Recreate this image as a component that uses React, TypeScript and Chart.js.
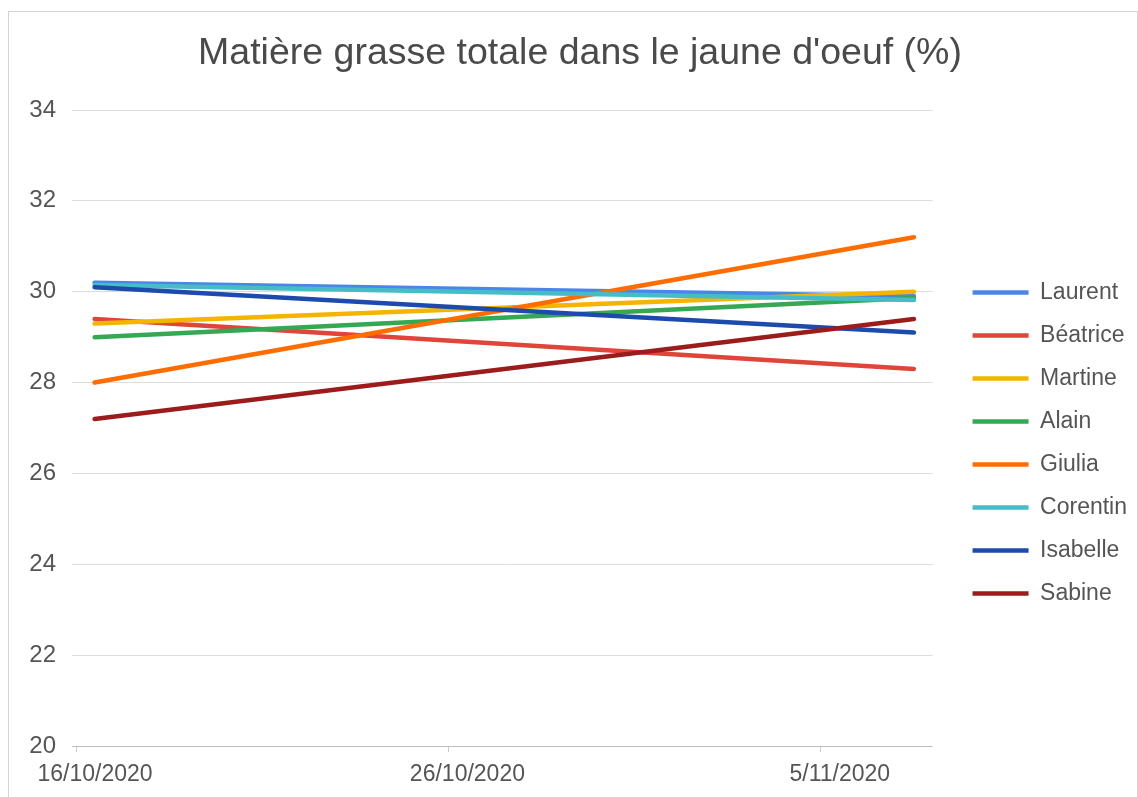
import React, { useEffect, useRef } from "react";
import { Chart, registerables } from "chart.js";

Chart.register(...registerables);

const chartTitle = "Matière grasse totale dans le jaune d'oeuf (%)";
const seriesNames = ["Laurent", "Béatrice", "Martine", "Alain", "Giulia", "Corentin", "Isabelle", "Sabine"];
const seriesColors = ["#4a86e8", "#e0453a", "#f4b400", "#34a853", "#ff6d01", "#46bdc6", "#1c4bad", "#9c1c1c"];
const sampleDates = ["2020-10-16T12:00:00Z", "2020-11-07T12:00:00Z"];
const laurentValues = [30.2, 29.9];
const beatriceValues = [29.4, 28.3];
const martineValues = [29.3, 30.0];
const alainValues = [29.0, 29.86];
const giuliaValues = [28.0, 31.2];
const corentinValues = [30.15, 29.82];
const isabelleValues = [30.1, 29.1];
const sabineValues = [27.2, 29.4];
const xTickDates = ["2020-10-16", "2020-10-26", "2020-11-05"];
const xTickLabels = ["16/10/2020", "26/10/2020", "5/11/2020"];
const xAxisRange = ["2020-10-16", "2020-11-08"];
const yAxisMin = 20;
const yAxisMax = 34;
const yAxisStep = 2;

const allValues = [laurentValues, beatriceValues, martineValues, alainValues, giuliaValues, corentinValues, isabelleValues, sabineValues];

const DAY_MS = 86400000;
const parseDate = (s: string) => Date.parse(s.length === 10 ? s + "T00:00:00Z" : s);
const originMs = parseDate(xAxisRange[0]);
const toDay = (s: string) => (parseDate(s) - originMs) / DAY_MS;

const FONT = "'Liberation Sans', Arial, sans-serif";

const boxPlacement = {
  id: "boxPlacement",
  afterLayout(chart: any) {
    const lg = chart.legend;
    if (lg) {
      const gap = 20;
      const dy = 15;
      const w = lg.width;
      lg.left = chart.chartArea.right + gap;
      lg.right = lg.left + w;
      lg.top += dy;
      lg.bottom += dy;
    }
    const tb = chart.titleBlock;
    if (tb) {
      const dx = 17;
      tb.left += dx;
      tb.right += dx;
    }
  },
};

export default function App() {
  const canvasRef = useRef<HTMLCanvasElement | null>(null);

  useEffect(() => {
    if (!canvasRef.current) return;
    const datasets = seriesNames.map((name, i) => ({
      label: name,
      data: allValues[i].map((v, j) => ({ x: toDay(sampleDates[j]), y: v })),
      borderColor: seriesColors[i],
      backgroundColor: seriesColors[i],
      borderWidth: 4.5,
      borderCapStyle: "round" as const,
      pointRadius: 0,
      pointHoverRadius: 0,
      tension: 0,
      order: -i,
    }));

    const chart = new Chart(canvasRef.current, {
      type: "line",
      data: { datasets },
      plugins: [boxPlacement],
      options: {
        animation: false,
        responsive: true,
        maintainAspectRatio: false,
        layout: { padding: { left: 0, right: 20, top: 0, bottom: 0 } },
        plugins: {
          title: {
            display: true,
            text: chartTitle,
            color: "#4a4a4a",
            font: { family: FONT, size: 37.5, weight: "normal" },
            padding: { top: 19, bottom: 34 },
          },
          legend: {
            display: true,
            position: "right",
            fullSize: false,
            labels: {
              usePointStyle: true,
              pointStyle: "line",
              pointStyleWidth: 56,
              padding: 20,
              color: "#555555",
              font: { family: FONT, size: 23 },
              sort: (a: any, b: any) => a.datasetIndex - b.datasetIndex,
            },
          },
          tooltip: { enabled: false },
        },
        scales: {
          x: {
            type: "linear",
            min: toDay(xAxisRange[0]),
            max: toDay(xAxisRange[1]),
            afterBuildTicks: (axis: any) => {
              axis.ticks = xTickDates.map((d) => ({ value: toDay(d) }));
            },
            afterFit: (axis: any) => {
              axis.height = 51;
            },
            ticks: {
              autoSkip: false,
              maxRotation: 0,
              labelOffset: 19,
              padding: 9,
              color: "#555555",
              font: { family: FONT, size: 23 },
              callback: (_v: any, index: number) => xTickLabels[index],
            },
            grid: {
              display: true,
              drawOnChartArea: false,
              drawTicks: true,
              tickLength: 6,
              color: "#cccccc",
            },
            border: { display: false },
          },
          y: {
            type: "linear",
            min: yAxisMin,
            max: yAxisMax,
            afterFit: (axis: any) => {
              axis.width = 67;
            },
            ticks: {
              stepSize: yAxisStep,
              padding: 16,
              color: "#555555",
              font: { family: FONT, size: 24 },
            },
            grid: {
              color: (ctx: any) => (ctx.tick && ctx.tick.value === yAxisMin ? "#bdbdbd" : "#dcdcdc"),
              tickLength: 4,
              lineWidth: 1,
            },
            border: { display: false },
          },
        },
      },
    });
    return () => chart.destroy();
  }, []);

  return (
    <div
      style={{
        position: "fixed",
        left: 8,
        top: 11,
        width: 1128,
        height: 800,
        border: "1px solid #d4d4d4",
        background: "#ffffff",
      }}
    >
      <div style={{ position: "relative", width: 1128, height: 785 }}>
        <canvas ref={canvasRef} />
      </div>
    </div>
  );
}
